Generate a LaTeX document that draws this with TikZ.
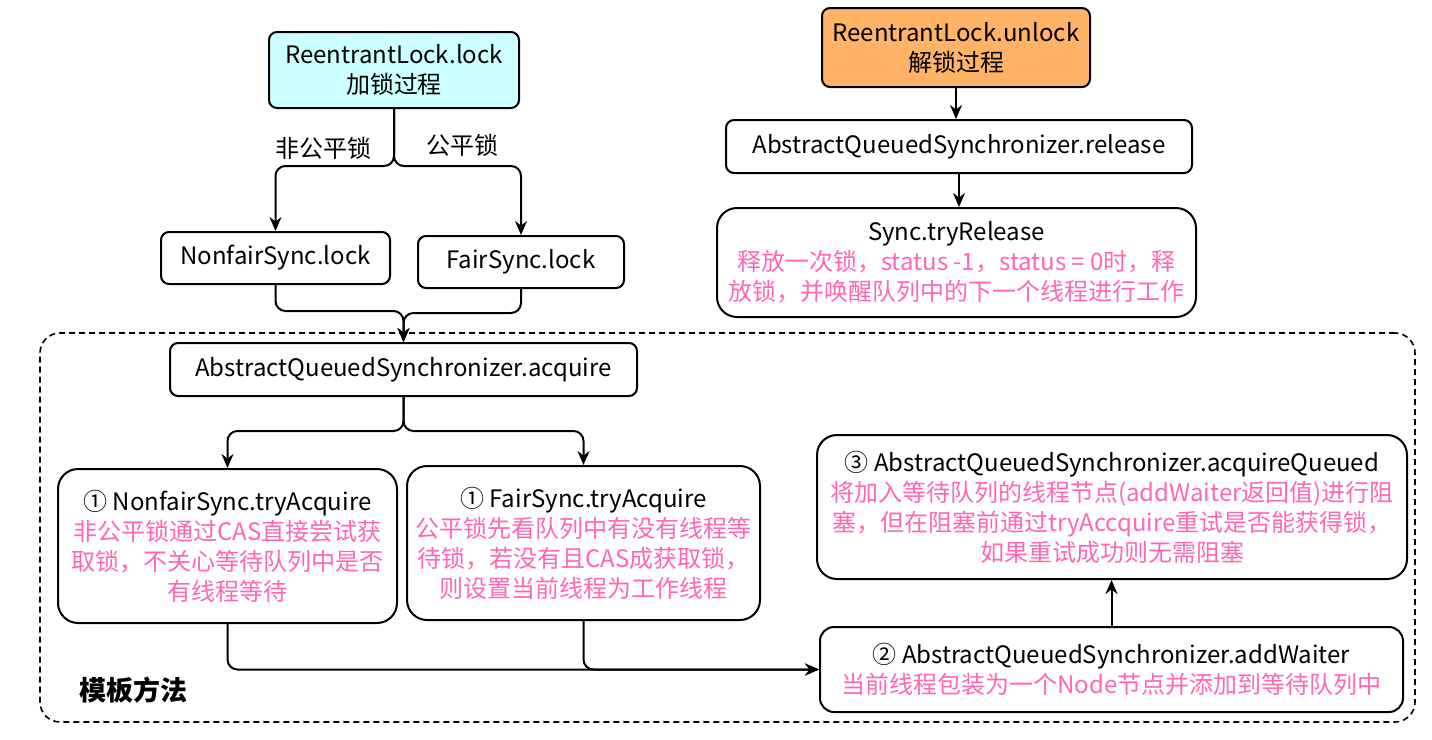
\documentclass[tikz,border=0pt]{standalone}
\usepackage{fontspec}
\setmainfont{Noto Sans CJK SC}
\usetikzlibrary{shapes,arrows.meta,positioning}
\definecolor{lockcyan}{HTML}{CCFFFF}
\definecolor{unlockorange}{HTML}{FFB366}
\definecolor{notepink}{HTML}{FF66B3}
\newcommand{\pk}[1]{\textcolor{notepink}{#1}}
\tikzset{
	txt/.style={font=\fontsize{12}{15}\selectfont},
	box/.style={txt,draw,line width=1pt,rounded corners=4pt,align=center,inner sep=0pt},
	bigbox/.style={box,rounded corners=10pt},
	arr/.style={-{Stealth[length=7pt,width=6pt]},line width=1pt,rounded corners=5pt},
	tmplbox/.style={draw,line width=0.8pt,dash pattern=on 3pt off 2pt,rounded corners=10pt,inner sep=0pt}
}
\begin{document}
\begin{tikzpicture}[x=0.5pt,y=-0.5pt]
				\useasboundingbox (0,0) rectangle (1432,740);
				\node[tmplbox,minimum width=687.5pt,minimum height=194.5pt] (tmpl) at (727.5,527.5) {};
				\node[font=\fontsize{13.5}{15}\selectfont\bfseries] (tmpl label) at (133,690) {模板方法};

				\node[box,fill=lockcyan,minimum width=125pt,minimum height=38pt] (lock) at (394,70) {ReentrantLock.lock\\加锁过程};
				\node[box,minimum width=114.5pt,minimum height=26pt] (nfl) at (275.5,258) {NonfairSync.lock};
				\node[box,minimum width=103pt,minimum height=26pt] (fl) at (521,262) {FairSync.lock};
				\node[txt] (nf label) at (323,148) {非公平锁};
				\node[txt] (f label) at (462,145) {公平锁};

				\node[box,minimum width=233.5pt,minimum height=26.5pt] (acq) at (403.5,369.5) {AbstractQueuedSynchronizer.acquire};
				\node[bigbox,minimum width=169.5pt,minimum height=77pt] (nfa) at (227.5,546) {① NonfairSync.tryAcquire\\\pk{非公平锁通过CAS直接尝试获}\\\pk{取锁，不关心等待队列中是否}\\\pk{有线程等待}};
				\node[bigbox,minimum width=176.5pt,minimum height=77pt] (fa) at (583.5,543) {① FairSync.tryAcquire\\\pk{公平锁先看队列中有没有线程等}\\\pk{待锁，若没有且CAS成获取锁，}\\\pk{则设置当前线程为工作线程}};
				\node[bigbox,minimum width=295pt,minimum height=72pt] (aq) at (1112,507) {③ AbstractQueuedSynchronizer.acquireQueued\\\pk{将加入等待队列的线程节点(addWaiter返回值)进行阻}\\\pk{塞，但在阻塞前通过tryAccquire重试是否能获得锁，}\\\pk{如果重试成功则无需阻塞}};
				\node[box,rounded corners=7pt,minimum width=291.5pt,minimum height=42.5pt] (aw) at (1111.5,669.5) {② AbstractQueuedSynchronizer.addWaiter\\\pk{当前线程包装为一个Node节点并添加到等待队列中}};

				\node[box,fill=unlockorange,minimum width=134pt,minimum height=39.5pt] (unlock) at (956,47.5) {ReentrantLock.unlock\\解锁过程};
				\node[box,minimum width=233pt,minimum height=26.5pt] (release) at (959,146.5) {AbstractQueuedSynchronizer.release};
				\node[bigbox,minimum width=239.5pt,minimum height=54.5pt] (tryrel) at (956.5,262.5) {Sync.tryRelease\\\pk{释放一次锁，status -1，status = 0时，释}\\\pk{放锁，并唤醒队列中的下一个线程进行工作}};

				\draw[arr] (lock.south) -- ++(0,57) -| (nfl.north);
				\draw[arr] (lock.south) -- ++(0,57) -| (fl.north);
				\draw[arr] (nfl.south) -- ++(0,26) -| (acq.north);
				\draw[arr] (fl.south) -- ++(0,24) -| (acq.north);
				\draw[arr] (acq.south) -- ++(0,34) -| (nfa.north);
				\draw[arr] (acq.south) -- ++(0,34) -| (fa.north);
				\draw[arr] (nfa.south) |- (aw.west);
				\draw[arr] (fa.south) |- (aw.west);
				\draw[arr] (aw.north) -- (aw.north |- aq.south);
				\draw[arr] (unlock.south) -- (unlock.south |- release.north);
				\draw[arr] (release.south) -- (release.south |- tryrel.north);
\end{tikzpicture}
\end{document}
